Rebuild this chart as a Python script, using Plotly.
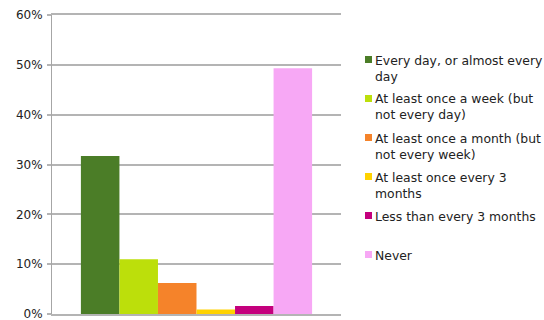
import plotly.graph_objects as go

# Share of respondents by frequency of use
categories = [
    "Every day, or almost every<br>day",
    "At least once a week (but<br>not every day)",
    "At least once a month (but<br>not every week)",
    "At least once every 3<br>months",
    "Less than every 3 months",
    "Never",
]
values = [0.317, 0.110, 0.062, 0.009, 0.016, 0.493]
colors = ["#4b7d27", "#bcdf0b", "#f5832a", "#ffd200", "#c4007d", "#f7a8f5"]
y_max = 0.6
y_step = 0.1

W, H = 544, 320
M = dict(l=52, r=203, t=15, b=6)
plot_w = W - M["l"] - M["r"]
plot_h = H - M["t"] - M["b"]
GRID = "#b4b4b4"
TEXT = "#222222"


def px_to_paper(px, py):
    return (px - M["l"]) / plot_w, (H - M["b"] - py) / plot_h


fig = go.Figure()
for name, val, col in zip(categories, values, colors):
    fig.add_trace(go.Bar(
        x=["all"], y=[val], name=name.replace("<br>", " "),
        marker=dict(color=col, line=dict(width=0)),
        showlegend=False,
    ))

# Legend: small square swatch followed by the category text
shapes, annotations = [], []
row_step = 39
for i, (name, col) in enumerate(zip(categories, colors)):
    cy = 59.5 + i * row_step
    x0, y0 = px_to_paper(365, cy + 3.5)
    x1, y1 = px_to_paper(372, cy - 3.5)
    shapes.append(dict(type="rect", xref="paper", yref="paper",
                       x0=x0, y0=y0, x1=x1, y1=y1,
                       fillcolor=col, line=dict(width=0)))
    ax, ay = px_to_paper(373, cy - 9)
    annotations.append(dict(xref="paper", yref="paper", x=ax, y=ay,
                            xanchor="left", yanchor="top", align="left",
                            text=name, showarrow=False,
                            font=dict(family="DejaVu Sans", size=12.4, color=TEXT)))

fig.update_layout(
    template="none",
    width=W, height=H,
    margin=M,
    paper_bgcolor="white", plot_bgcolor="white",
    barmode="group", bargap=0.2, bargroupgap=0,
    font=dict(family="DejaVu Sans", size=12, color=TEXT),
    showlegend=False,
    shapes=shapes,
    annotations=annotations,
)
# bottom (0%) and top (60%) rules come from the x axis line and its mirror
fig.update_xaxes(showticklabels=False, showgrid=False, zeroline=False,
                 showline=True, mirror=True, linecolor=GRID, linewidth=2,
                 ticks="")
fig.update_yaxes(
    range=[0, y_max], tickmode="linear", tick0=0, dtick=y_step, tickformat=".0%",
    showgrid=True, gridcolor=GRID, gridwidth=2,
    zeroline=False,
    showline=True, linecolor="#a6a6a6", linewidth=1,
    ticks="outside", ticklen=4, tickwidth=2, tickcolor=GRID,
    ticklabelstandoff=2,
    ticklabeloverflow="allow",
    automargin=False,
    tickfont=dict(family="DejaVu Sans", size=12, color=TEXT),
)

fig.write_html("out.html")
